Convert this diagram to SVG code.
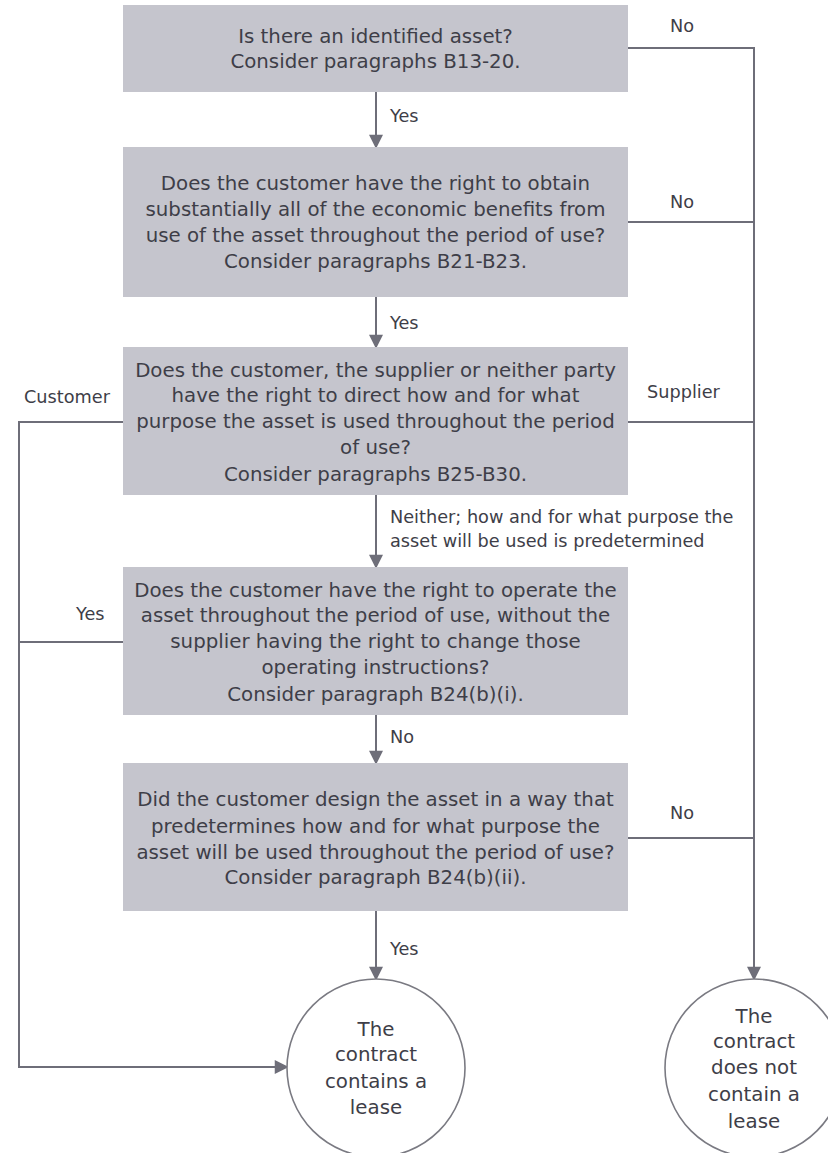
<svg xmlns="http://www.w3.org/2000/svg" width="828" height="1153" viewBox="0 0 828 1153">
<style>
.box{fill:#c5c5cd;}
.t{font-family:"DejaVu Sans",sans-serif;font-size:19.8px;fill:#3e3e48;text-anchor:middle;}
.lbl{font-family:"DejaVu Sans",sans-serif;font-size:17.7px;fill:#3e3e48;}
.ln{fill:none;stroke:#6e6e79;stroke-width:2;}
.circ{fill:#fff;stroke:#7a7a82;stroke-width:1.6;}
</style>
<defs>
<marker id="ah" markerWidth="16" markerHeight="14" refX="14" refY="8" orient="auto" markerUnits="userSpaceOnUse" viewBox="0 0 16 16">
<path d="M0,0 L16,8 L0,16 Z" fill="#6e6e79"/>
</marker>
</defs>
<rect width="828" height="1153" fill="#fff"/>
<g id="connectors">
<path class="ln" d="M376,92 V147" marker-end="url(#ah)"/>
<path class="ln" d="M376,297 V347" marker-end="url(#ah)"/>
<path class="ln" d="M376,495 V567" marker-end="url(#ah)"/>
<path class="ln" d="M376,715 V763" marker-end="url(#ah)"/>
<path class="ln" d="M376,911 V979" marker-end="url(#ah)"/>
<path class="ln" d="M628,48 H754 V979" marker-end="url(#ah)"/>
<path class="ln" d="M628,222 H754"/>
<path class="ln" d="M628,422 H754"/>
<path class="ln" d="M628,838 H754"/>
<path class="ln" d="M123,422 H19 V1067 H287" marker-end="url(#ah)"/>
<path class="ln" d="M123,642 H19"/>
<text class="lbl" x="390" y="122">Yes</text>
<text class="lbl" x="390" y="329">Yes</text>
<text class="lbl" x="390" y="743">No</text>
<text class="lbl" x="390" y="955">Yes</text>
<text class="lbl" x="670" y="32">No</text>
<text class="lbl" x="670" y="208">No</text>
<text class="lbl" x="670" y="819">No</text>
<text class="lbl" x="647" y="398">Supplier</text>
<text class="lbl" x="24" y="403">Customer</text>
<text class="lbl" x="76" y="620">Yes</text>
<text class="lbl" x="390" y="523">Neither; how and for what purpose the</text>
<text class="lbl" x="390" y="547">asset will be used is predetermined</text>
</g>
<g id="n1">
<rect class="box" x="123" y="5" width="505" height="87"/>
<text class="t" x="375.5" y="43">Is there an identified asset?</text>
<text class="t" x="375.5" y="68">Consider paragraphs B13-20.</text>
</g>
<g id="n2">
<rect class="box" x="123" y="147" width="505" height="150"/>
<text class="t" x="375.5" y="190">Does the customer have the right to obtain</text>
<text class="t" x="375.5" y="216">substantially all of the economic benefits from</text>
<text class="t" x="375.5" y="242">use of the asset throughout the period of use?</text>
<text class="t" x="375.5" y="268">Consider paragraphs B21-B23.</text>
</g>
<g id="n3">
<rect class="box" x="123" y="347" width="505" height="148"/>
<text class="t" x="375.5" y="377">Does the customer, the supplier or neither party</text>
<text class="t" x="375.5" y="402">have the right to direct how and for what</text>
<text class="t" x="375.5" y="428">purpose the asset is used throughout the period</text>
<text class="t" x="375.5" y="454">of use?</text>
<text class="t" x="375.5" y="481">Consider paragraphs B25-B30.</text>
</g>
<g id="n4">
<rect class="box" x="123" y="567" width="505" height="148"/>
<text class="t" x="375.5" y="597">Does the customer have the right to operate the</text>
<text class="t" x="375.5" y="622">asset throughout the period of use, without the</text>
<text class="t" x="375.5" y="648">supplier having the right to change those</text>
<text class="t" x="375.5" y="674">operating instructions?</text>
<text class="t" x="375.5" y="701">Consider paragraph B24(b)(i).</text>
</g>
<g id="n5">
<rect class="box" x="123" y="763" width="505" height="148"/>
<text class="t" x="375.5" y="806">Did the customer design the asset in a way that</text>
<text class="t" x="375.5" y="833">predetermines how and for what purpose the</text>
<text class="t" x="375.5" y="859">asset will be used throughout the period of use?</text>
<text class="t" x="375.5" y="884">Consider paragraph B24(b)(ii).</text>
</g>
<g id="c1">
<circle class="circ" cx="376" cy="1068" r="89"/>
<text class="t" x="376" y="1036">The</text>
<text class="t" x="376" y="1061">contract</text>
<text class="t" x="376" y="1088">contains a</text>
<text class="t" x="376" y="1114">lease</text>
</g>
<g id="c2">
<circle class="circ" cx="754" cy="1068" r="89"/>
<text class="t" x="754" y="1023">The</text>
<text class="t" x="754" y="1048">contract</text>
<text class="t" x="754" y="1074">does not</text>
<text class="t" x="754" y="1101">contain a</text>
<text class="t" x="754" y="1128">lease</text>
</g>
</svg>
